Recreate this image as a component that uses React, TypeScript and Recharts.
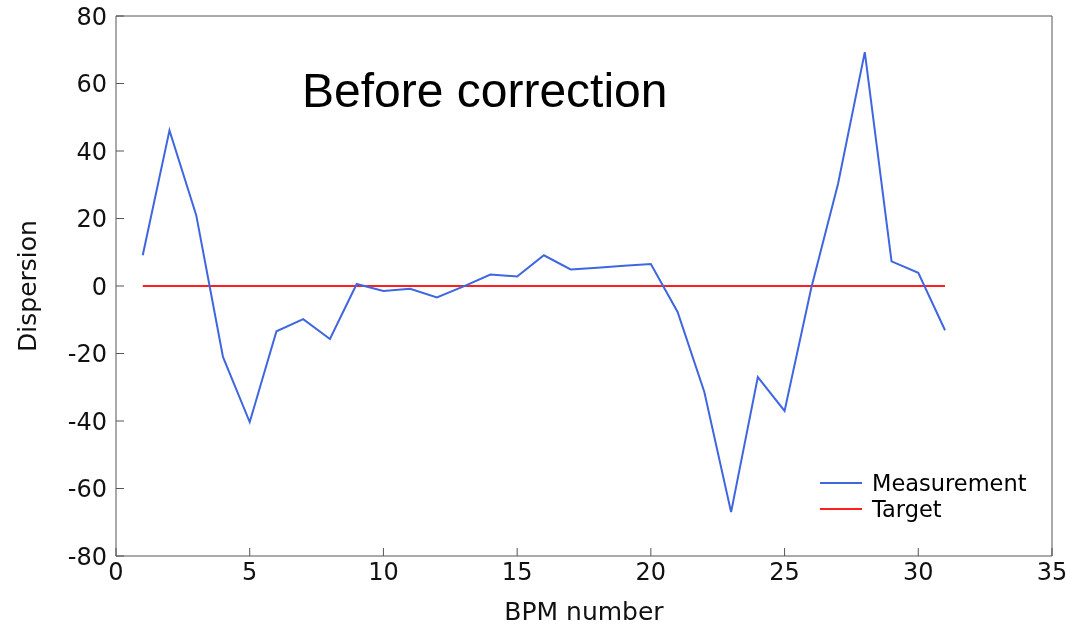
import { LineChart, Line, XAxis, YAxis, Customized } from 'recharts'

const bpmNumbers = [1, 2, 3, 4, 5, 6, 7, 8, 9, 10, 11, 12, 13, 14, 15, 16, 17, 18, 19, 20, 21, 22, 23, 24, 25, 26, 27, 28, 29, 30, 31]
const measurement = [9.1, 46.1, 21, -21, -40.3, -13.4, -9.8, -15.7, 0.6, -1.5, -0.8, -3.4, -0.1, 3.4, 2.8, 9.1, 4.9, 5.4, 6, 6.5, -7.7, -31.4, -67, -27, -37, -0.5, 30.3, 69.3, 7.3, 3.9, -13.1]
const target = [0, 0, 0, 0, 0, 0, 0, 0, 0, 0, 0, 0, 0, 0, 0, 0, 0, 0, 0, 0, 0, 0, 0, 0, 0, 0, 0, 0, 0, 0, 0]

const xTicks = [0, 5, 10, 15, 20, 25, 30, 35]
const yTicks = [-80, -60, -40, -20, 0, 20, 40, 60, 80]

const rows = bpmNumbers.map((bpm, i) => ({ bpm, measurement: measurement[i], target: target[i] }))

const BLUE = '#3f66e0'
const RED = '#ff1f1f'
const FRAME = '#555'
const tickFont = { fontFamily: 'DejaVu Sans', fontSize: 24, fill: '#111' }

function Overlay() {
  return (
    <g>
      <text x={302} y={107} fontFamily="Liberation Sans" fontSize={48} fill="#000">
        Before correction
      </text>
      <line x1={820} x2={862} y1={483} y2={483} stroke={BLUE} strokeWidth={2} />
      <text x={872} y={491} fontFamily="DejaVu Sans" fontSize={22.5} fill="#000">Measurement</text>
      <line x1={820} x2={862} y1={509} y2={509} stroke={RED} strokeWidth={2} />
      <text x={872} y={517} fontFamily="DejaVu Sans" fontSize={22.5} fill="#000">Target</text>
    </g>
  )
}

export default function App() {
  return (
    <div style={{ position: 'fixed', left: 0, top: 0, width: 1066, height: 625 }}>
      <LineChart width={1066} height={625} data={rows} margin={{ top: 15, right: 13, bottom: 0, left: 0 }}>
        <XAxis
          dataKey="bpm"
          type="number"
          domain={[0, 35]}
          ticks={xTicks}
          height={69}
          stroke={FRAME}
          tickSize={-8}
          tickMargin={15}
          tick={tickFont}
          label={{ value: 'BPM number', position: 'insideBottom', offset: 5, style: { fontFamily: 'DejaVu Sans', fontSize: 25, fill: '#111' } }}
        />
        <XAxis xAxisId="top" orientation="top" dataKey="bpm" type="number" domain={[0, 35]} ticks={xTicks} height={1} stroke={FRAME} tickSize={-8} tick={false} />
        <YAxis
          type="number"
          domain={[-80, 80]}
          ticks={yTicks}
          width={116}
          stroke={FRAME}
          tickSize={-8}
          tickMargin={17}
          tick={tickFont}
          label={{ value: 'Dispersion', angle: -90, position: 'insideLeft', offset: 27, style: { textAnchor: 'middle', fontFamily: 'DejaVu Sans', fontSize: 25, fill: '#111' } }}
        />
        <YAxis yAxisId="right" orientation="right" type="number" domain={[-80, 80]} ticks={yTicks} width={1} stroke={FRAME} tickSize={-8} tick={false} />
        <Line dataKey="target" stroke={RED} strokeWidth={2} dot={false} isAnimationActive={false} />
        <Line dataKey="measurement" stroke={BLUE} strokeWidth={2} dot={false} isAnimationActive={false} />
        <Customized component={Overlay} />
      </LineChart>
    </div>
  )
}
